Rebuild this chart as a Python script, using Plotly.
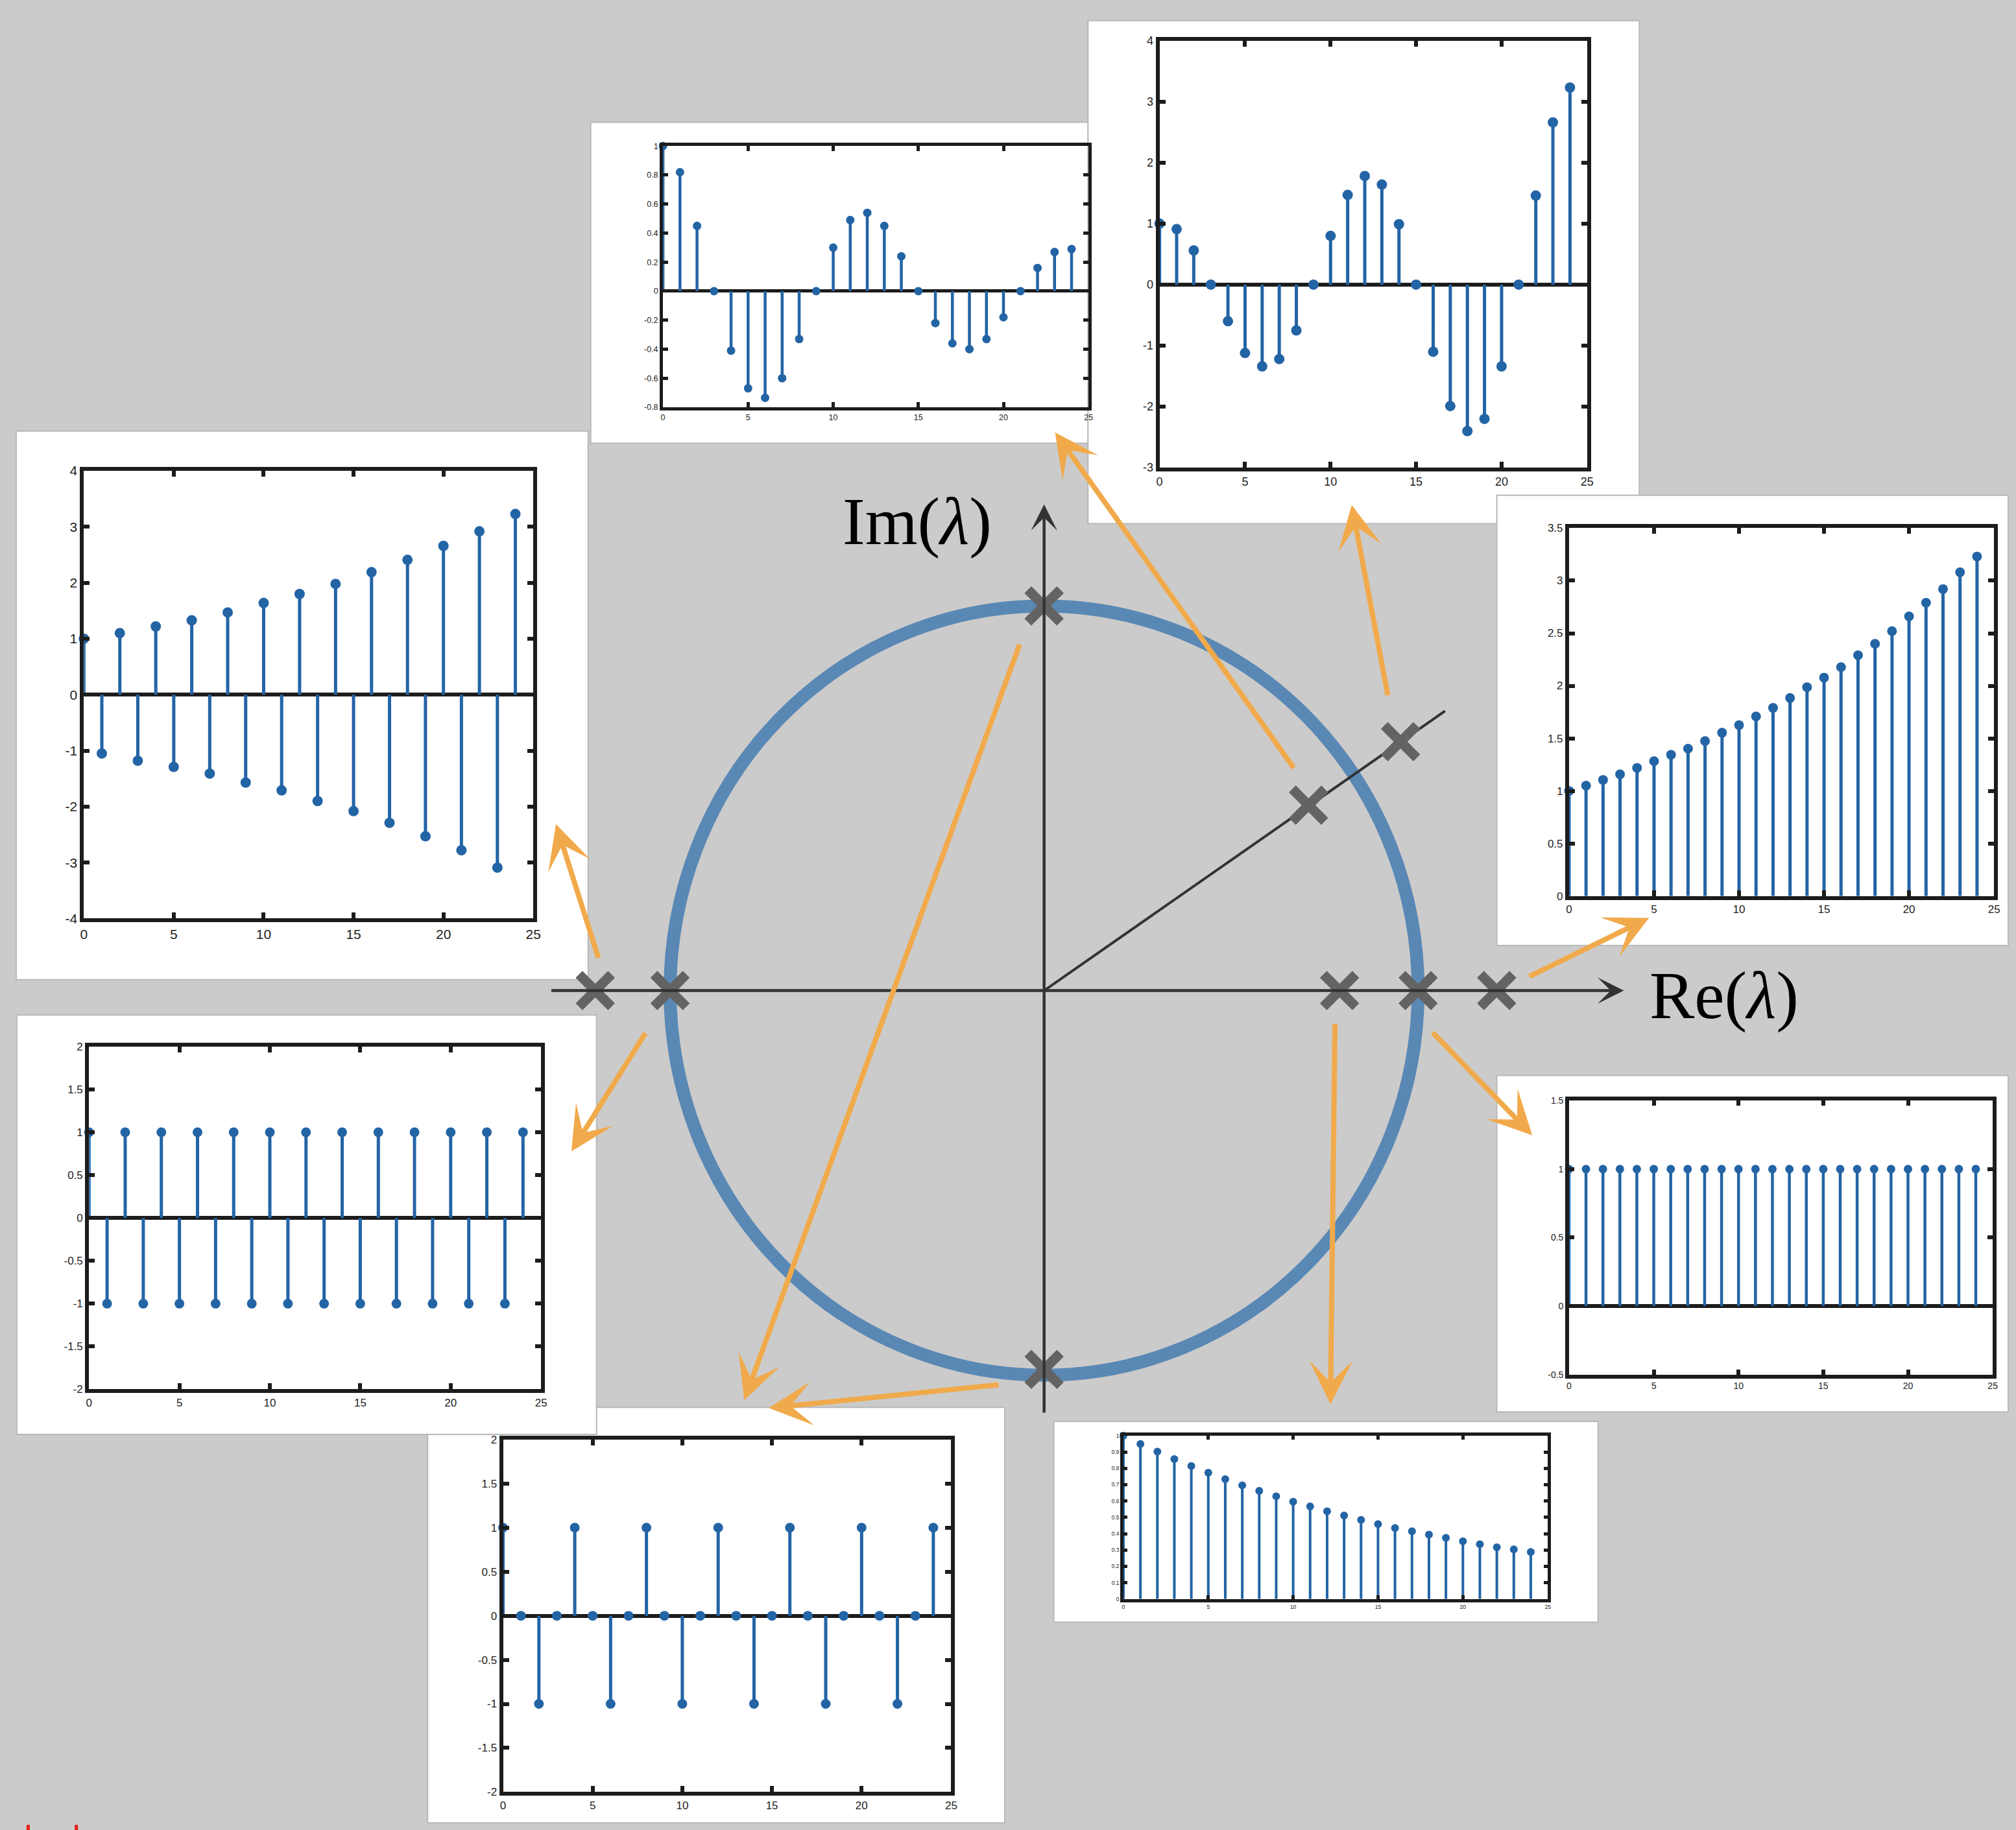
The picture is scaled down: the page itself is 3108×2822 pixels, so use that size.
import plotly.graph_objects as go

W, H = 3108, 2822
BG = '#cbcbcb'
BLUE = '#2364a5'
ORANGE = '#f1aa4b'
DARK = '#333333'
XGRAY = '#636363'
CIRCLE = '#5a88b5'
TICKFONT = 'Liberation Sans Narrow, Liberation Sans, Arial, sans-serif'

# ---------------- data ----------------
n = list(range(25))

sig_a = [1.0, 0.82, 0.45, 0.0, -0.41, -0.67, -0.735, -0.60, -0.33, 0.0, 0.30, 0.49, 0.54,
         0.45, 0.24, 0.0, -0.22, -0.36, -0.40, -0.33, -0.18, 0.0, 0.16, 0.27, 0.29]
sig_b = [1.0, 0.91, 0.56, 0.0, -0.60, -1.12, -1.34, -1.22, -0.75, 0.0, 0.80, 1.47, 1.78,
         1.64, 0.99, 0.0, -1.10, -1.99, -2.40, -2.20, -1.34, 0.0, 1.46, 2.66, 3.23]
sig_c = [1.0, 1.05, 1.105, 1.158, 1.219, 1.283, 1.344, 1.402, 1.474, 1.554, 1.626, 1.709, 1.79,
         1.884, 1.987, 2.078, 2.178, 2.29, 2.40, 2.52, 2.66, 2.79, 2.92, 3.08, 3.23]
sig_d = [1.0] * 25
sig_e = [1.0, 0.949, 0.902, 0.857, 0.814, 0.773, 0.734, 0.696, 0.662, 0.629, 0.596, 0.567, 0.537,
         0.511, 0.485, 0.459, 0.435, 0.415, 0.394, 0.374, 0.354, 0.336, 0.317, 0.304, 0.288]
sig_f = [1, 0, -1, 0, 1, 0, -1, 0, 1, 0, -1, 0, 1, 0, -1, 0, 1, 0, -1, 0, 1, 0, -1, 0, 1]
sig_g = [1, -1, 1, -1, 1, -1, 1, -1, 1, -1, 1, -1, 1, -1, 1, -1, 1, -1, 1, -1, 1, -1, 1, -1, 1]
sig_h = [1.0, -1.05, 1.10, -1.18, 1.22, -1.29, 1.33, -1.41, 1.47, -1.57, 1.64, -1.71, 1.80,
         -1.90, 1.98, -2.08, 2.19, -2.29, 2.41, -2.53, 2.66, -2.78, 2.92, -3.09, 3.23]

x_ticks = [0, 5, 10, 15, 20, 25]
x_ticktext = ['0', '5', '10', '15', '20', '25']

yt_a = [-0.8, -0.6, -0.4, -0.2, 0, 0.2, 0.4, 0.6, 0.8, 1]
yl_a = ['-0.8', '-0.6', '-0.4', '-0.2', '0', '0.2', '0.4', '0.6', '0.8', '1']
yt_b = [-3, -2, -1, 0, 1, 2, 3, 4]
yl_b = ['-3', '-2', '-1', '0', '1', '2', '3', '4']
yt_c = [0, 0.5, 1, 1.5, 2, 2.5, 3, 3.5]
yl_c = ['0', '0.5', '1', '1.5', '2', '2.5', '3', '3.5']
yt_d = [-0.5, 0, 0.5, 1, 1.5]
yl_d = ['-0.5', '0', '0.5', '1', '1.5']
yt_e = [0, 0.1, 0.2, 0.3, 0.4, 0.5, 0.6, 0.7, 0.8, 0.9, 1]
yl_e = ['0', '0.1', '0.2', '0.3', '0.4', '0.5', '0.6', '0.7', '0.8', '0.9', '1']
yt_2 = [-2, -1.5, -1, -0.5, 0, 0.5, 1, 1.5, 2]
yl_2 = ['-2', '-1.5', '-1', '-0.5', '0', '0.5', '1', '1.5', '2']
yt_h = [-4, -3, -2, -1, 0, 1, 2, 3, 4]
yl_h = ['-4', '-3', '-2', '-1', '0', '1', '2', '3', '4']

# eigenvalues in the complex plane
eig_re = [-1.2, -1.0, 0.79, 1.0, 1.21, 0.0, 0.0, 0.707, 0.953]
eig_im = [0.0, 0.0, 0.0, 0.0, 0.0, 1.0, -0.985, 0.482, 0.647]
ray_re = [0.0, 1.072]
ray_im = [0.0, 0.727]

# ---------------- layout helpers ----------------
ORIGIN = (1613, 1528)
UNIT = (580, 598)


def px_x(p):
    return p / W


def px_y(p):
    return 1 - p / H


insets = [
    dict(vals=sig_a, box=(910, 178, 1690, 677), axes=(1022, 215, 1682, 621), yr=[-0.8, 1],
         yt=yt_a, yl=yl_a, fs=12.5, ms=13, sw=4.5, lw=5, tl=8),
    dict(vals=sig_b, box=(1681, 20, 2536, 802), axes=(1792, 51, 2455, 715), yr=[-3, 4],
         yt=yt_b, yl=yl_b, fs=18, ms=16, sw=5, lw=6, tl=9),
    dict(vals=sig_c, box=(2315, 758, 3108, 1458), axes=(2427, 809, 3086, 1381), yr=[0, 3.5],
         yt=yt_c, yl=yl_c, fs=17, ms=15, sw=5, lw=6, tl=9),
    dict(vals=sig_d, box=(2315, 1660, 3108, 2183), axes=(2427, 1699, 3084, 2125), yr=[-0.5, 1.5],
         yt=yt_d, yl=yl_d, fs=14, ms=13, sw=4.5, lw=5.5, tl=8),
    dict(vals=sig_e, box=(1628, 2198, 2472, 2510), axes=(1736, 2220, 2394, 2474), yr=[0, 1],
         yt=yt_e, yl=yl_e, fs=8.5, ms=12, sw=4, lw=4.5, tl=6),
    dict(vals=sig_f, box=(657, 2176, 1552, 2822), axes=(774, 2226, 1469, 2774), yr=[-2, 2],
         yt=yt_2, yl=yl_2, fs=17, ms=15, sw=5, lw=6, tl=9),
    dict(vals=sig_g, box=(20, 1566, 919, 2218), axes=(132, 1615, 833, 2148), yr=[-2, 2],
         yt=yt_2, yl=yl_2, fs=17, ms=15, sw=5, lw=6, tl=9),
    dict(vals=sig_h, box=(19, 658, 906, 1511), axes=(124, 720, 821, 1416), yr=[-4, 4],
         yt=yt_h, yl=yl_h, fs=21, ms=16, sw=5, lw=6, tl=9),
]

# arrows: (tail_x, tail_y, tip_x, tip_y) in page pixels
arrows = [
    (1999, 1179, 1630, 660),
    (2146, 1068, 2090, 773),
    (2365, 1506, 2551, 1415),
    (2215, 1593, 2370, 1753),
    (2064, 1583, 2057, 2171),
    (1542, 2141, 1186, 2177),
    (1573, 998, 1148, 2165),
    (995, 1594, 880, 1778),
    (922, 1477, 856, 1269),
]

fig = go.Figure()

# ---------------- main complex plane ----------------
fig.add_trace(go.Scatter(x=ray_re, y=ray_im, mode='lines', line=dict(color=DARK, width=4),
                         hoverinfo='skip', showlegend=False))
fig.add_trace(go.Scatter(x=eig_re, y=eig_im, mode='markers',
                         marker=dict(symbol='x-thin', size=50, line=dict(width=15, color=XGRAY)),
                         hoverinfo='skip', showlegend=False, cliponaxis=False))

layout = dict(
    width=W, height=H, autosize=False,
    margin=dict(l=0, r=0, t=0, b=0, pad=0),
    paper_bgcolor=BG, plot_bgcolor='rgba(0,0,0,0)',
    showlegend=False,
    xaxis=dict(domain=[0, 1], range=[-ORIGIN[0] / UNIT[0], (W - ORIGIN[0]) / UNIT[0]],
               visible=False, fixedrange=True),
    yaxis=dict(domain=[0, 1], range=[(ORIGIN[1] - H) / UNIT[1], ORIGIN[1] / UNIT[1]],
               visible=False, fixedrange=True),
)

shapes = []
annotations = []

# white boxes behind insets
for ins in insets:
    bx0, by0, bx1, by1 = ins['box']
    shapes.append(dict(type='rect', xref='paper', yref='paper',
                       x0=px_x(bx0), x1=px_x(bx1), y0=px_y(by1), y1=px_y(by0),
                       fillcolor='white', line=dict(color='#b8b8b8', width=2), layer='below'))

# unit circle
shapes.append(dict(type='circle', xref='x', yref='y', x0=-1, x1=1, y0=-1, y1=1,
                   line=dict(color=CIRCLE, width=20), layer='below'))

# coordinate axes with arrow heads
annotations.append(dict(xref='x', yref='y', axref='x', ayref='y', x=1.55, y=0, ax=-1.32, ay=0,
                        text='', showarrow=True, arrowhead=3, arrowsize=1.5, arrowwidth=4.5,
                        arrowcolor=DARK, standoff=0, startstandoff=0))
annotations.append(dict(xref='x', yref='y', axref='x', ayref='y', x=0, y=1.264, ax=0, ay=-1.1,
                        text='', showarrow=True, arrowhead=3, arrowsize=1.5, arrowwidth=4.5,
                        arrowcolor=DARK, standoff=0, startstandoff=0))

# axis labels
annotations.append(dict(xref='paper', yref='paper', x=px_x(2667), y=px_y(1536),
                        text='Re(<i>λ</i>)', showarrow=False, xanchor='center', yanchor='middle',
                        font=dict(family='Liberation Serif, serif', size=104, color='black')))
annotations.append(dict(xref='paper', yref='paper', x=px_x(1416), y=px_y(799),
                        text='Im(<i>λ</i>)', showarrow=False, xanchor='center', yanchor='middle',
                        font=dict(family='Liberation Serif, serif', size=104, color='black')))

# orange arrows
for tx, ty, hx, hy in arrows:
    annotations.append(dict(xref='paper', yref='paper', axref='pixel', ayref='pixel',
                            x=px_x(hx), y=px_y(hy), ax=tx - hx, ay=ty - hy,
                            text='', showarrow=True, arrowhead=3, arrowsize=1.4, arrowwidth=8,
                            arrowcolor=ORANGE, standoff=0, startstandoff=0))

# red text cut off by the bottom edge (as in the reference)
annotations.append(dict(xref='paper', yref='paper', x=px_x(0), y=px_y(2812),
                        text='slack', showarrow=False, xanchor='left', yanchor='top',
                        font=dict(family='Liberation Sans, sans-serif', size=58, color='#e2231a')))

# ---------------- inset stem plots ----------------
for i, ins in enumerate(insets, start=2):
    ax0, ay0, ax1, ay1 = ins['axes']
    xs, ys = [], []
    for k, v in zip(n, ins['vals']):
        xs += [k, k, None]
        ys += [0, v, None]
    fig.add_trace(go.Scatter(x=xs, y=ys, mode='lines', line=dict(color=BLUE, width=ins['sw']),
                             xaxis=f'x{i}', yaxis=f'y{i}', hoverinfo='skip', showlegend=False,
                             connectgaps=False))
    fig.add_trace(go.Scatter(x=n, y=ins['vals'], mode='markers',
                             marker=dict(color=BLUE, size=ins['ms']),
                             xaxis=f'x{i}', yaxis=f'y{i}', hoverinfo='skip', showlegend=False,
                             cliponaxis=False))
    common = dict(showline=True, mirror='ticks', linecolor='#1c1c1c', linewidth=ins['lw'],
                  ticks='inside', tickcolor='#1c1c1c', tickwidth=ins['lw'], ticklen=ins['tl'],
                  showgrid=False, fixedrange=True,
                  tickfont=dict(family=TICKFONT, size=ins['fs'], color='#222222'))
    layout[f'xaxis{i}'] = dict(domain=[px_x(ax0), px_x(ax1)], anchor=f'y{i}', range=[0, 25],
                               tickmode='array', tickvals=x_ticks, ticktext=x_ticktext,
                               zeroline=False, **common)
    layout[f'yaxis{i}'] = dict(domain=[px_y(ay1), px_y(ay0)], anchor=f'x{i}', range=ins['yr'],
                               tickmode='array', tickvals=ins['yt'], ticktext=ins['yl'],
                               zeroline=True, zerolinecolor='#1c1c1c', zerolinewidth=ins['lw'],
                               **common)

layout['shapes'] = shapes
layout['annotations'] = annotations
fig.update_layout(**layout)

fig.write_html('out.html', config={'displayModeBar': False},
               post_script="document.body.style.margin='0';document.body.style.overflow='hidden';")
